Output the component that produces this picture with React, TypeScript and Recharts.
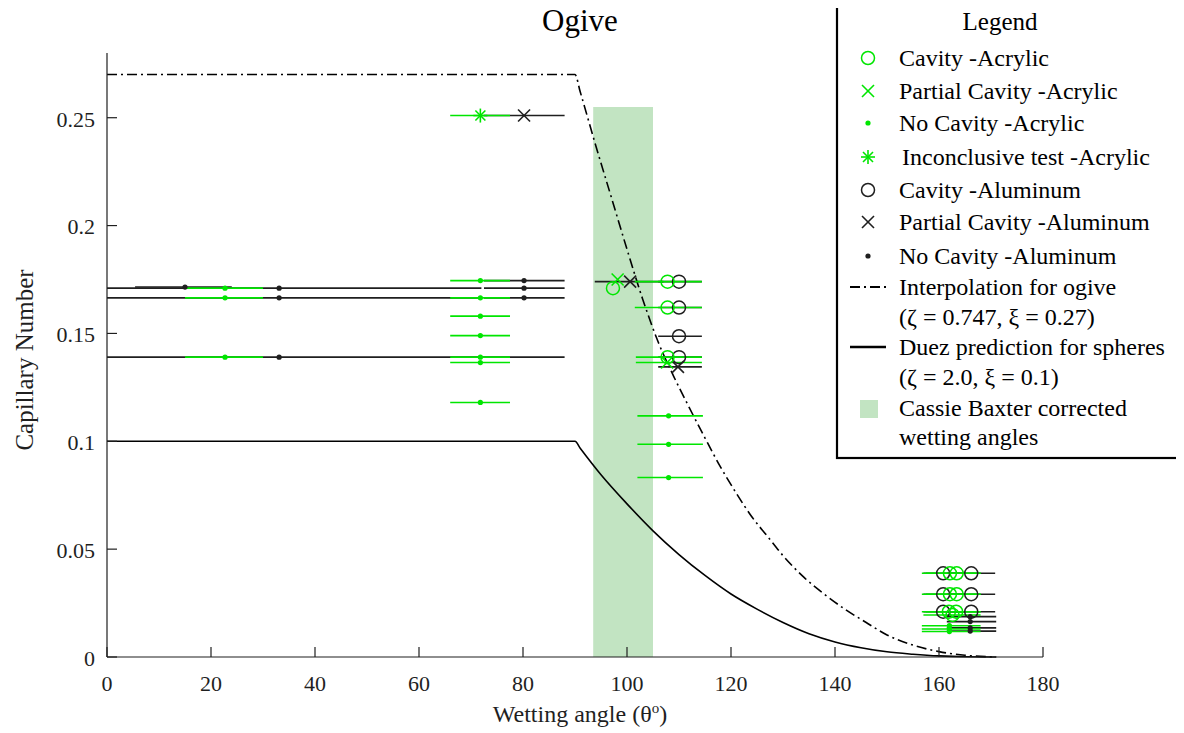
import React from "react";
import {
  ComposedChart, ErrorBar, Line, ReferenceArea, Scatter, XAxis, YAxis
} from "recharts";

const SERIF = "'Liberation Serif', 'Times New Roman', Times, Tinos, 'Noto Serif', 'DejaVu Serif', serif";
const GREEN = "#00e600";
const INK = "#1f1f1f";

const xTicks = [0, 20, 40, 60, 80, 100, 120, 140, 160, 180];
const yTicks = [0, 0.05, 0.1, 0.15, 0.2, 0.25];

// Cassie Baxter corrected band (angle range, top)
const cassieBand = [93.5, 105];
const cassieTop = 0.255;

// dash-dot ogive interpolation
const ogiveAngles = [0, 90, 91, 94, 97, 100, 103, 106, 109, 112, 115, 118, 121, 124, 127, 130, 134, 138, 142, 146, 150, 155, 160, 165, 171];
const ogiveCa = [0.27, 0.27, 0.262, 0.237, 0.213, 0.189, 0.166, 0.146, 0.13, 0.1155, 0.1015, 0.088, 0.076, 0.065, 0.056, 0.047, 0.037, 0.029, 0.022, 0.016, 0.0102, 0.0055, 0.0025, 0.0008, 0];

// Duez prediction for spheres
const duezAngles = [0, 90, 91, 95, 100, 105, 110, 115, 120, 125, 130, 135, 140, 145, 150, 155, 160, 165, 171];
const duezCa = [0.1, 0.1, 0.0968, 0.0845, 0.071, 0.0585, 0.0475, 0.0378, 0.0292, 0.0222, 0.016, 0.0108, 0.007, 0.0043, 0.0024, 0.0013, 0.0005, 0.0001, 0];

// [angle, Ca, bar left, bar right]
const cavityAcrylic = [
  [97.3, 0.171, 97.3, 97.3],
  [107.8, 0.174, 101.5, 114.4],
  [107.8, 0.162, 101.5, 114.4],
  [107.8, 0.139, 101.7, 114.4],
  [162.1, 0.0388, 156.7, 168],
  [163.4, 0.0388, 157.5, 168],
  [162.1, 0.0291, 156.7, 168],
  [163.4, 0.0291, 157.5, 168],
  [161.9, 0.021, 156.7, 168],
  [163.3, 0.021, 157.5, 168],
  [162.6, 0.0195, 157, 168],
];
const partialAcrylic = [
  [98.2, 0.175, 98.2, 98.2],
  [107.7, 0.1365, 101.7, 114.4],
];
const noCavityAcrylic = [
  [22.7, 0.171, 15, 30],
  [22.7, 0.1665, 15, 30],
  [22.7, 0.139, 15, 30],
  [71.8, 0.1745, 66, 77.5],
  [71.8, 0.1665, 66, 77.5],
  [71.8, 0.158, 66, 77.5],
  [71.8, 0.149, 66, 77.5],
  [71.8, 0.139, 66, 77.5],
  [71.8, 0.1365, 66, 77.5],
  [71.8, 0.118, 66, 77.5],
  [108, 0.1118, 102, 114.6],
  [108, 0.0986, 102, 114.6],
  [108, 0.0832, 102, 114.6],
  [162, 0.0145, 156.7, 168],
  [162, 0.013, 156.7, 168],
  [162, 0.0118, 156.7, 168],
];
const inconclusiveAcrylic = [
  [71.8, 0.251, 66, 77.5],
];
const cavityAluminum = [
  [110, 0.174, 106, 114.4],
  [110, 0.162, 106, 114.4],
  [110, 0.1487, 106, 114.4],
  [110, 0.139, 106, 114.4],
  [160.8, 0.0388, 157, 165],
  [166.2, 0.0388, 161.5, 170.8],
  [160.8, 0.0291, 157, 165],
  [166.2, 0.0291, 161.5, 170.8],
  [160.8, 0.021, 157, 165],
  [166.2, 0.021, 161.5, 170.8],
];
const partialAluminum = [
  [80.2, 0.251, 72.5, 88],
  [100.6, 0.174, 93.8, 107],
  [109.8, 0.1345, 106, 114.4],
];
const noCavityAluminum = [
  [15, 0.1715, 5.4, 24],
  [33.1, 0.171, 0, 72],
  [33.1, 0.1665, 0, 72],
  [33.1, 0.139, 0, 88],
  [80.2, 0.1745, 72.5, 88],
  [80.2, 0.171, 72.5, 88],
  [80.2, 0.1665, 72.5, 88],
  [166, 0.0187, 161.5, 171],
  [166, 0.0164, 161.5, 171],
  [166, 0.0135, 161.5, 171],
  [166, 0.012, 161.5, 171],
];

const curve = (xs: number[], ys: number[]) => xs.map((a, i) => ({ a, ca: ys[i] }));
const rows = (pts: number[][]) =>
  pts.map(([a, ca, lo, hi]) => ({ a, ca, ex: [a - lo, hi - a] }));

const ring = (color: string) => (p: any) =>
  <circle cx={p.cx} cy={p.cy} r={6.5} fill="none" stroke={color} strokeWidth={1.5} />;
const cross = (color: string) => (p: any) => (
  <g stroke={color} strokeWidth={1.6}>
    <line x1={p.cx - 6} y1={p.cy - 6} x2={p.cx + 6} y2={p.cy + 6} />
    <line x1={p.cx - 6} y1={p.cy + 6} x2={p.cx + 6} y2={p.cy - 6} />
  </g>
);
const dot = (color: string) => (p: any) =>
  <circle cx={p.cx} cy={p.cy} r={2.6} fill={color} stroke="none" />;
const star = (color: string) => (p: any) => (
  <g stroke={color} strokeWidth={1.6}>
    <line x1={p.cx - 7} y1={p.cy} x2={p.cx + 7} y2={p.cy} />
    <line x1={p.cx} y1={p.cy - 7} x2={p.cx} y2={p.cy + 7} />
    <line x1={p.cx - 5} y1={p.cy - 5} x2={p.cx + 5} y2={p.cy + 5} />
    <line x1={p.cx - 5} y1={p.cy + 5} x2={p.cx + 5} y2={p.cy - 5} />
  </g>
);

const XTick = (p: any) => (
  <g>
    <line x1={p.x} x2={p.x} y1={p.y - 18} y2={p.y - 28} stroke={INK} strokeWidth={1.2} />
    <text x={p.x} y={p.y} dy="0.71em" textAnchor="middle" fontSize={22} fontFamily={SERIF} fill={INK}>
      {p.payload.value}
    </text>
  </g>
);
const YTick = (p: any) => (
  <g>
    <line x1={p.x + 12} x2={p.x + 22} y1={p.y} y2={p.y} stroke={INK} strokeWidth={1.2} />
    <text x={p.x} y={p.y} dy="0.4em" textAnchor="end" fontSize={22} fontFamily={SERIF} fill={INK}>
      {p.payload.value}
    </text>
  </g>
);

const series = [
  { pts: cavityAluminum, color: INK, shape: ring(INK) },
  { pts: partialAluminum, color: INK, shape: cross(INK) },
  { pts: noCavityAluminum, color: INK, shape: dot(INK) },
  { pts: noCavityAcrylic, color: GREEN, shape: dot(GREEN) },
  { pts: cavityAcrylic, color: GREEN, shape: ring(GREEN) },
  { pts: partialAcrylic, color: GREEN, shape: cross(GREEN) },
  { pts: inconclusiveAcrylic, color: GREEN, shape: star(GREEN) },
];

const legendRows = [
  { y: 58, text: "Cavity -Acrylic" },
  { y: 91, text: "Partial Cavity -Acrylic" },
  { y: 123, text: "No Cavity -Acrylic" },
  { y: 157, text: "Inconclusive test -Acrylic", dx: 3 },
  { y: 190, text: "Cavity -Aluminum" },
  { y: 222, text: "Partial Cavity -Aluminum" },
  { y: 256, text: "No Cavity -Aluminum" },
  { y: 287, text: "Interpolation for ogive" },
  { y: 317, text: "(\u03b6 = 0.747, \u03be = 0.27)" },
  { y: 347, text: "Duez prediction for spheres" },
  { y: 377, text: "(\u03b6 = 2.0, \u03be = 0.1)" },
  { y: 408, text: "Cassie Baxter corrected" },
  { y: 437, text: "wetting angles" },
];

function LegendBox() {
  const sx = 868;
  return (
    <svg width={1184} height={733} style={{ position: "absolute", left: 0, top: 0, pointerEvents: "none" }}>
      <rect x={837} y={4} width={342} height={454} fill="#fff" stroke="#000" strokeWidth={2.2} />
      <text x={1000} y={30} textAnchor="middle" fontSize={25} fontFamily={SERIF} fill="#000">Legend</text>
      {ring(GREEN)({ cx: sx, cy: 58 })}
      {cross(GREEN)({ cx: sx, cy: 91 })}
      {dot(GREEN)({ cx: sx, cy: 123 })}
      {star(GREEN)({ cx: sx, cy: 157 })}
      {ring(INK)({ cx: sx, cy: 190 })}
      {cross(INK)({ cx: sx, cy: 222 })}
      {dot(INK)({ cx: sx, cy: 256 })}
      <line x1={850} x2={886} y1={287} y2={287} stroke="#000" strokeWidth={2} strokeDasharray="10 4 2 4" />
      <line x1={850} x2={886} y1={347} y2={347} stroke="#000" strokeWidth={2.5} />
      <rect x={860} y={400} width={18} height={18} fill="#c2e4c2" />
      {legendRows.map((r) => (
        <text key={r.text} x={899 + (r.dx || 0)} y={r.y + 8} fontSize={24} fontFamily={SERIF} fill="#000">
          {r.text}
        </text>
      ))}
    </svg>
  );
}

export default function App() {
  return (
    <div style={{ position: "relative", width: 1184, height: 733, margin: "-8px 0 0 -8px", fontFamily: SERIF }}>
      <ComposedChart
        width={1184}
        height={733}
        margin={{ top: 53, right: 141, bottom: 16, left: 27 }}
      >
        <XAxis
          type="number"
          dataKey="a"
          domain={[0, 180]}
          ticks={xTicks}
          tickSize={0}
          tickMargin={18}
          tick={<XTick />}
          height={60}
          stroke={INK}
          strokeWidth={1.2}
        />
        <YAxis
          type="number"
          domain={[0, 0.28]}
          ticks={yTicks}
          tickSize={0}
          tickMargin={12}
          tick={<YTick />}
          width={80}
          stroke={INK}
          strokeWidth={1.2}
        />
        <ReferenceArea x1={cassieBand[0]} x2={cassieBand[1]} y1={0} y2={cassieTop} fill="#c2e4c2" fillOpacity={1} stroke="none" />
        <Line
          data={curve(ogiveAngles, ogiveCa)}
          dataKey="ca"
          type="monotone"
          dot={false}
          stroke="#000"
          strokeWidth={1.6}
          strokeDasharray="10 4 2 4"
          isAnimationActive={false}
        />
        <Line
          data={curve(duezAngles, duezCa)}
          dataKey="ca"
          type="monotone"
          dot={false}
          stroke="#000"
          strokeWidth={1.6}
          isAnimationActive={false}
        />
        {series.map((s, i) => (
          <Scatter key={i} data={rows(s.pts)} dataKey="ca" shape={s.shape} isAnimationActive={false}>
            <ErrorBar dataKey="ex" direction="x" width={0} stroke={s.color} strokeWidth={1.6} isAnimationActive={false} />
          </Scatter>
        ))}
      </ComposedChart>
      <div style={{ position: "absolute", left: 0, width: 1160, top: 3, textAlign: "center", fontSize: 31, color: "#000" }}>
        Ogive
      </div>
      <div style={{ position: "absolute", left: 380, width: 400, top: 700, textAlign: "center", fontSize: 24, color: INK, whiteSpace: "nowrap" }}>
        Wetting angle (θ<sup style={{ fontSize: 15 }}>o</sup>)
      </div>
      <div
        style={{
          position: "absolute", left: 25, top: 360, fontSize: 25, color: INK, whiteSpace: "nowrap",
          transform: "translate(-50%, -50%) rotate(-90deg)",
        }}
      >
        Capillary Number
      </div>
      <LegendBox />
    </div>
  );
}
